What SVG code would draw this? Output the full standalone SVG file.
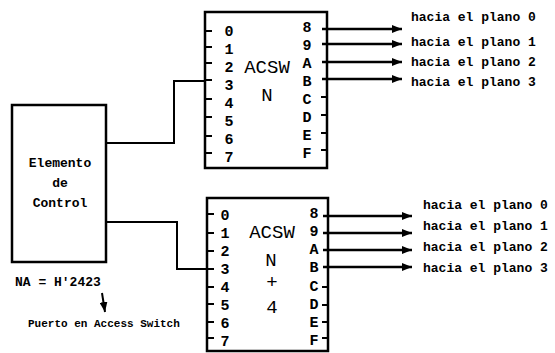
<svg xmlns="http://www.w3.org/2000/svg" width="555" height="353" viewBox="0 0 555 353">
<defs>
<marker id="ah" viewBox="0 0 10 8" refX="10" refY="4" markerWidth="10" markerHeight="8" markerUnits="userSpaceOnUse" orient="auto">
<path d="M0,0 L10,4 L0,8 z" fill="#000"/>
</marker>
</defs>
<style>
.box{fill:none;stroke:#000;stroke-width:2.5}
.ln{fill:none;stroke:#000;stroke-width:2}
.tk{stroke:#000;stroke-width:2}
.out{stroke:#000;stroke-width:2.5;marker-end:url(#ah)}
.pin{font-family:"Liberation Mono",monospace;font-size:15px;font-weight:bold;text-anchor:middle}
.big{font-family:"Liberation Mono",monospace;font-size:19px;text-anchor:middle}
.lbl{font-family:"Liberation Mono",monospace;font-size:13px;font-weight:bold}
.sm{font-family:"Liberation Mono",monospace;font-size:11px;font-weight:bold}
</style>
<rect width="555" height="353" fill="#fff"/>

<g id="control">
<rect class="box" x="12" y="105" width="94" height="157"/>
<text class="lbl" x="60" y="167" text-anchor="middle">Elemento</text>
<text class="lbl" x="60" y="187" text-anchor="middle">de</text>
<text class="lbl" x="60" y="207" text-anchor="middle">Control</text>
</g>

<g id="acsw-n">
<rect class="box" x="205" y="12" width="122" height="156"/>
<g class="tk">
<line x1="205" y1="31" x2="212" y2="31"/><line x1="205" y1="47" x2="212" y2="47"/>
<line x1="205" y1="63" x2="212" y2="63"/><line x1="205" y1="80" x2="212" y2="80"/>
<line x1="205" y1="99" x2="212" y2="99"/><line x1="205" y1="117" x2="212" y2="117"/>
<line x1="205" y1="136" x2="212" y2="136"/><line x1="205" y1="153" x2="212" y2="153"/>
<line x1="321" y1="97" x2="327" y2="97"/><line x1="321" y1="115" x2="327" y2="115"/>
<line x1="321" y1="133" x2="327" y2="133"/><line x1="321" y1="150" x2="327" y2="150"/>
</g>
<text class="pin" x="229" y="36">0</text><text class="pin" x="229" y="54">1</text>
<text class="pin" x="229" y="72">2</text><text class="pin" x="229" y="90">3</text>
<text class="pin" x="229" y="108">4</text><text class="pin" x="229" y="126">5</text>
<text class="pin" x="229" y="144">6</text><text class="pin" x="229" y="162">7</text>
<text class="pin" x="307" y="32">8</text><text class="pin" x="307" y="50">9</text>
<text class="pin" x="307" y="68">A</text><text class="pin" x="307" y="86">B</text>
<text class="pin" x="307" y="104">C</text><text class="pin" x="307" y="122">D</text>
<text class="pin" x="307" y="140">E</text><text class="pin" x="307" y="158">F</text>
<text class="big" x="267" y="73">ACSW</text>
<text class="big" x="267" y="101">N</text>
</g>

<g id="acsw-n4">
<rect class="box" x="207" y="198" width="121" height="153"/>
<g class="tk">
<line x1="207" y1="214" x2="214" y2="214"/><line x1="207" y1="233" x2="214" y2="233"/>
<line x1="207" y1="251" x2="214" y2="251"/><line x1="207" y1="269" x2="214" y2="269"/>
<line x1="207" y1="287" x2="214" y2="287"/><line x1="207" y1="304" x2="214" y2="304"/>
<line x1="207" y1="322" x2="214" y2="322"/><line x1="207" y1="338" x2="214" y2="338"/>
<line x1="322" y1="287" x2="328" y2="287"/><line x1="322" y1="305" x2="328" y2="305"/>
<line x1="322" y1="322" x2="328" y2="322"/><line x1="322" y1="338" x2="328" y2="338"/>
</g>
<text class="pin" x="225" y="220">0</text><text class="pin" x="225" y="238">1</text>
<text class="pin" x="225" y="256">2</text><text class="pin" x="225" y="274">3</text>
<text class="pin" x="225" y="292">4</text><text class="pin" x="225" y="310">5</text>
<text class="pin" x="225" y="328">6</text><text class="pin" x="225" y="346">7</text>
<text class="pin" x="314" y="218">8</text><text class="pin" x="314" y="236">9</text>
<text class="pin" x="314" y="254">A</text><text class="pin" x="314" y="272">B</text>
<text class="pin" x="314" y="291">C</text><text class="pin" x="314" y="309">D</text>
<text class="pin" x="314" y="327">E</text><text class="pin" x="314" y="345">F</text>
<text class="big" x="272" y="238">ACSW</text>
<text class="big" x="271" y="266">N</text>
<text class="big" x="272" y="288">+</text>
<text class="big" x="272" y="313">4</text>
</g>

<g id="labels">
<text class="lbl" x="411" y="21">hacia el plano 0</text>
<text class="lbl" x="411" y="46">hacia el plano 1</text>
<text class="lbl" x="411" y="66">hacia el plano 2</text>
<text class="lbl" x="411" y="86">hacia el plano 3</text>
<text class="lbl" x="423" y="209">hacia el plano 0</text>
<text class="lbl" x="423" y="230">hacia el plano 1</text>
<text class="lbl" x="423" y="251">hacia el plano 2</text>
<text class="lbl" x="423" y="272">hacia el plano 3</text>
<text class="lbl" x="15" y="286">NA = H'2423</text>
<text class="sm" x="28" y="327">Puerto en Access Switch</text>
</g>

<g id="connectors">
<polyline class="ln" points="106,143 174,143 174,81 205,81"/>
<polyline class="ln" points="106,222 177,222 177,269 207,269"/>
<line class="out" x1="322" y1="29" x2="402" y2="29"/>
<line class="out" x1="322" y1="44" x2="402" y2="44"/>
<line class="out" x1="322" y1="62" x2="402" y2="62"/>
<line class="out" x1="322" y1="79" x2="402" y2="79"/>
<line class="out" x1="323" y1="216" x2="412" y2="216"/>
<line class="out" x1="323" y1="233" x2="412" y2="233"/>
<line class="out" x1="323" y1="250" x2="412" y2="250"/>
<line class="out" x1="323" y1="267" x2="412" y2="267"/>
<line class="ln" x1="102" y1="293" x2="105" y2="312" marker-end="url(#ah)"/>
</g>
</svg>
